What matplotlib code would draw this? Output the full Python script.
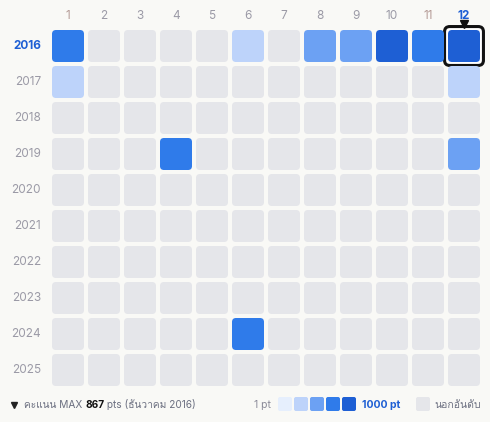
import matplotlib
matplotlib.use("Agg")
import matplotlib.pyplot as plt
from matplotlib import font_manager, ft2font
from matplotlib.patches import FancyBboxPatch
import numpy as np


# find some installed family that has Thai glyphs
def find_thai_family():
    for f in font_manager.fontManager.ttflist:
        try:
            if 0x0E04 in ft2font.FT2Font(f.fname).get_charmap():
                return f.name
        except Exception:
            pass
    return None


thai = find_thai_family()
families = ["Inter"] + ([thai] if thai else []) + ["DejaVu Sans"]
plt.rcParams["font.family"] = families

# data
years = [2016, 2017, 2018, 2019, 2020, 2021, 2022, 2023, 2024, 2025]
months = ["1", "2", "3", "4", "5", "6", "7", "8", "9", "10", "11", "12"]
# (year, month, points) for ranked months, everything else is out of ranking
ranked_year = [2016, 2016, 2016, 2016, 2016, 2016, 2016, 2017, 2017, 2019, 2019, 2024]
ranked_month = [1, 6, 8, 9, 10, 11, 12, 1, 12, 4, 12, 6]
ranked_pts = [410, 40, 150, 140, 720, 380, 867, 30, 25, 350, 120, 300]
level_edges = [1, 10, 50, 200, 500, 1000]
level_colors = ["#e6effd", "#bdd3fa", "#6ca1f3", "#2f7bea", "#1e5fd4"]
empty_color = "#e5e6ea"
max_label = "ธันวาคม 2016"

bg = "#f9f9f6"
blue_txt = "#1e5fd4"
gray_txt = "#9b9aa6"
month_hi = {"1": "#b59c97", "11": "#b59c97"}

fig = plt.figure(figsize=(4.9, 4.22), dpi=100, facecolor=bg)
ax = fig.add_axes([50 / 490, 34 / 422, 432 / 490, 360 / 422])
ax.set_xlim(-0.5, 11.5)
ax.set_ylim(9.5, -0.5)
ax.axis("off")

grid = np.full((len(years), len(months)), np.nan)
for y, m, p in zip(ranked_year, ranked_month, ranked_pts):
    grid[years.index(y), m - 1] = p

imax = np.nanargmax(grid)
max_r, max_c = np.unravel_index(imax, grid.shape)

size = 32 / 36
rad = 4 / 36
for r in range(len(years)):
    for c in range(len(months)):
        v = grid[r, c]
        if np.isnan(v):
            col = empty_color
        else:
            lvl = int(np.searchsorted(level_edges, v, side="right")) - 1
            col = level_colors[min(max(lvl, 0), 4)]
        ax.add_patch(FancyBboxPatch((c - size / 2 + rad, r - size / 2 + rad),
                                    size - 2 * rad, size - 2 * rad,
                                    boxstyle=f"round,pad={rad}", fc=col,
                                    ec="none", zorder=2))

# highlight the best month
big = 36.5 / 36
ax.add_patch(FancyBboxPatch((max_c - big / 2 + rad, max_r - big / 2 + rad),
                            big - 2 * rad, big - 2 * rad,
                            boxstyle=f"round,pad={rad * 1.3}", fc="white",
                            ec="#111111", lw=2.2, zorder=1.5, clip_on=False))
ax.plot(max_c, -0.62, marker="v", color="#111111", ms=6, zorder=4, clip_on=False)

for c, m in enumerate(months):
    if c == max_c:
        ax.text(c, -0.83, m, ha="center", va="center", fontsize=8.5,
                color=blue_txt, fontweight="bold", clip_on=False)
    else:
        ax.text(c, -0.83, m, ha="center", va="center", fontsize=8.5,
                color=month_hi.get(m, gray_txt), clip_on=False)

for r, y in enumerate(years):
    if r == max_r:
        ax.text(-0.75, r, str(y), ha="right", va="center", fontsize=8.5,
                color=blue_txt, fontweight="bold", clip_on=False)
    else:
        ax.text(-0.75, r, str(y), ha="right", va="center", fontsize=8.5,
                color=gray_txt, clip_on=False)

# footer
fax = fig.add_axes([0, 0, 1, 1], facecolor="none")
fax.set_xlim(0, 490)
fax.set_ylim(422, 0)
fax.axis("off")

fax.plot(14, 404.5, marker="v", color="#222222", ms=5)
t1 = fax.text(24, 410, "คะแนน MAX ", fontsize=7.3, color="#6b6f80", va="bottom")
t2 = fax.annotate(f"{int(np.nanmax(grid))}", xy=(1, 0), xycoords=t1, va="bottom",
                  fontsize=7.3, color="#111111", fontweight="bold")
t3 = fax.annotate(f" pts ({max_label})", xy=(1, 0), xycoords=t2, va="bottom",
                  fontsize=7.3, color="#6b6f80")

fax.text(271, 404.5, "1 pt", fontsize=7.5, color="#8a8a98", ha="right", va="center")
for i, col in enumerate(level_colors):
    x0 = 278 + i * 16
    fax.add_patch(FancyBboxPatch((x0 + 2, 399), 10, 10, boxstyle="round,pad=2",
                                 fc=col, ec="none"))
fax.text(362, 404.5, "1000 pt", fontsize=7.5, color=blue_txt, fontweight="bold",
         va="center")
fax.add_patch(FancyBboxPatch((418, 399), 10, 10, boxstyle="round,pad=2",
                             fc=empty_color, ec="none"))
fax.text(434, 404.5, "นอกอันดับ", fontsize=7.5, color="#6b6f80", va="center")

fig.savefig("out.png", dpi=100, facecolor=bg)
